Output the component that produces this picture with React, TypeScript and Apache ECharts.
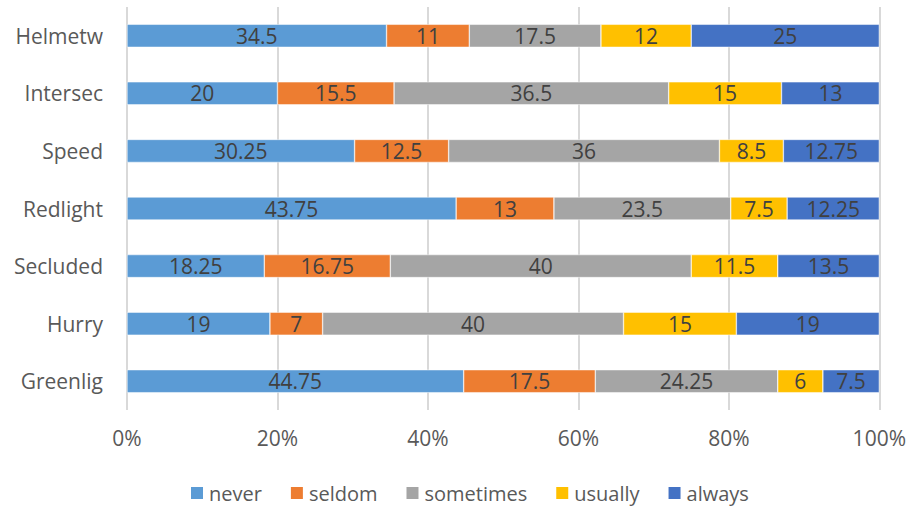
import React, { useEffect, useRef } from "react";
import * as echarts from "echarts";

const categories = ["Helmetw", "Intersec", "Speed", "Redlight", "Secluded", "Hurry", "Greenlig"];
const never = [34.5, 20, 30.25, 43.75, 18.25, 19, 44.75];
const seldom = [11, 15.5, 12.5, 13, 16.75, 7, 17.5];
const sometimes = [17.5, 36.5, 36, 23.5, 40, 40, 24.25];
const usually = [12, 15, 8.5, 7.5, 11.5, 15, 6];
const always = [25, 13, 12.75, 12.25, 13.5, 19, 7.5];
const seriesNames = ["never", "seldom", "sometimes", "usually", "always"];
const seriesData = [never, seldom, sometimes, usually, always];
const colors = ["#5B9BD5", "#ED7D31", "#A5A5A5", "#FFC000", "#4472C4"];

const FONT = "'Open Sans', 'Noto Sans', sans-serif";

export default function App() {
  const ref = useRef<HTMLDivElement>(null);
  useEffect(() => {
    if (!ref.current) return;
    const chart = echarts.init(ref.current, null, { renderer: "svg" });
    chart.setOption({
      animation: false,
      color: colors,
      grid: { left: 127, right: 28, top: 7, bottom: 99, containLabel: false },
      legend: {
        top: 479,
        left: 187,
        padding: 2,
        itemWidth: 14,
        itemHeight: 14,
        itemGap: 27,
        icon: "rect",
        textStyle: { fontSize: 20, color: "#595959", fontFamily: FONT, lineHeight: 24 },
        data: seriesNames,
      },
      xAxis: {
        type: "value",
        min: 0,
        max: 100,
        interval: 20,
        axisLabel: {
          formatter: "{value}%",
          fontSize: 21,
          color: "#595959",
          fontFamily: FONT,
          margin: 17,
        },
        axisLine: { show: false },
        axisTick: { show: false },
        splitLine: { show: true, lineStyle: { color: "#D9D9D9", width: 2 } },
      },
      yAxis: {
        type: "category",
        inverse: true,
        data: categories,
        axisLine: { show: false },
        axisTick: { show: false },
        axisLabel: { fontSize: 21, color: "#595959", fontFamily: FONT, margin: 24 },
      },
      series: seriesNames.map((name, i) => ({
        name,
        type: "bar",
        stack: "total",
        barWidth: 23,
        data: seriesData[i],
        itemStyle: { color: colors[i], borderColor: "#ffffff", borderWidth: 0.5 },
        label: {
          show: true,
          position: "inside",
          fontSize: 21,
          color: "#404040",
          fontFamily: FONT,
        },
      })),
    });
    return () => chart.dispose();
  }, []);
  return (
    <div
      ref={ref}
      style={{ position: "absolute", left: 0, top: 0, width: 909, height: 509 }}
    />
  );
}
